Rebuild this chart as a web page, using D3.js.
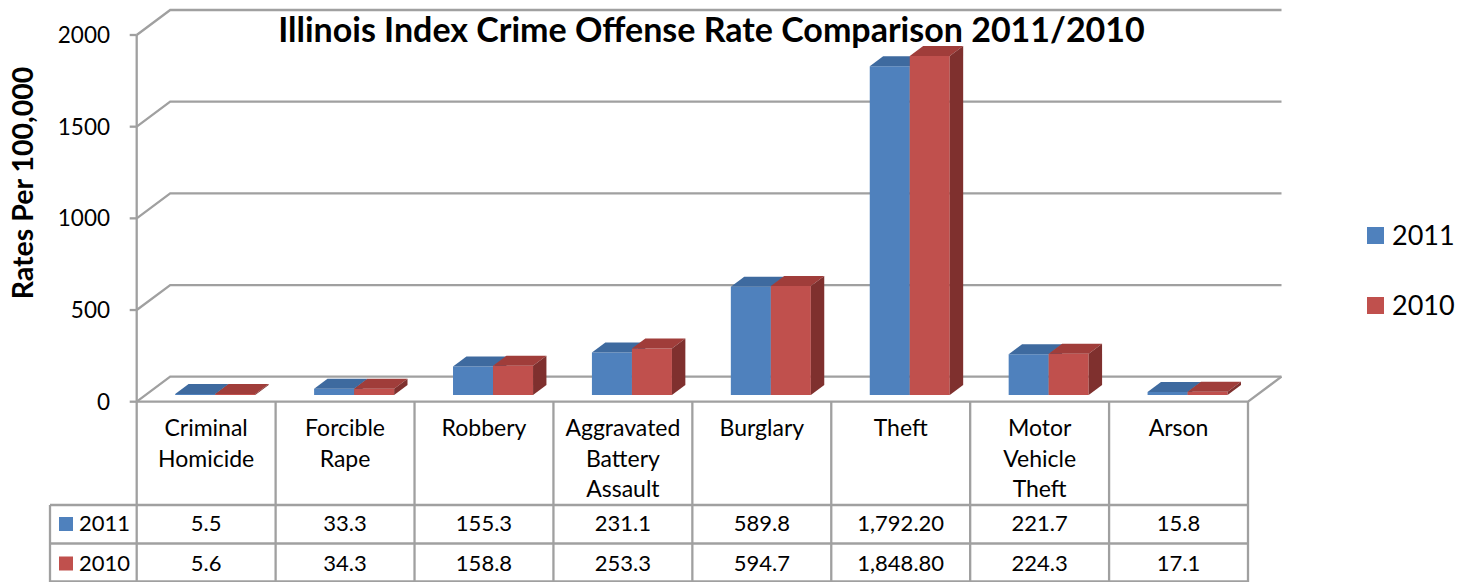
<!DOCTYPE html>
<html>
<head>
<meta charset="utf-8">
<script src="https://cdn.jsdelivr.net/npm/d3@7"></script>
<style>
  html, body { margin: 0; padding: 0; background: #fff; }
  svg { display: block; font-family: Lato, "Open Sans", sans-serif; }
</style>
</head>
<body>
<svg id="chart" width="1471" height="582"></svg>
<script>
// Index crime offense rates per 100,000 population
const categories = ["Criminal Homicide", "Forcible Rape", "Robbery", "Aggravated Battery Assault",
                    "Burglary", "Theft", "Motor Vehicle Theft", "Arson"];
const categoryLines = [["Criminal", "Homicide"], ["Forcible", "Rape"], ["Robbery"],
                       ["Aggravated", "Battery", "Assault"], ["Burglary"], ["Theft"],
                       ["Motor", "Vehicle", "Theft"], ["Arson"]];
const seriesNames = ["2011", "2010"];
const values2011 = [5.5, 33.3, 155.3, 231.1, 589.8, 1792.2, 221.7, 15.8];
const values2010 = [5.6, 34.3, 158.8, 253.3, 594.7, 1848.8, 224.3, 17.1];
const yTicks = [0, 500, 1000, 1500, 2000];

const seriesValues = { "2011": values2011, "2010": values2010 };
const seriesColors = {
  "2011": { front: "#4f81bd", top: "#3e6a9f", side: "#35597f" },
  "2010": { front: "#c0504d", top: "#a03d3a", side: "#7f302e" }
};

const svg = d3.select("#chart");

// Front plane of the 3D plot and the depth offset of the back wall
const left = 136.7, right = 1248, floorY = 401.7, topY = 35;
const DX = 33.5, DY = 25;
const barF1 = 0.27, barF2 = 0.67;   // depth span of the columns (0 = front, 1 = back)
const gridColor = "#a0a0a0";

const x = d3.scaleBand().domain(categories).range([left, right]);
const xs = d3.scaleBand().domain(seriesNames).range([0, x.bandwidth()]).paddingOuter(0.736);
const y = d3.scaleLinear().domain([0, 2000]).range([floorY, topY]);

const proj = (px, v, f) => [px + f * DX, y(v) - f * DY];

// Back wall gridlines with their diagonal side-wall segments
const grid = svg.append("g").attr("fill", "none").attr("stroke", gridColor).attr("stroke-width", 2.3);
yTicks.forEach(t => {
  const pts = [[left, y(t)], proj(left, t, 1), proj(right, t, 1)];
  grid.append("path").attr("d", d3.line()(pts));
  grid.append("line").attr("x1", left - 7).attr("x2", left).attr("y1", y(t)).attr("y2", y(t));
});
// Floor front and right edges, front value axis
grid.append("path").attr("d", d3.line()([[left, floorY], [right, floorY], proj(right, 0, 1)]));
grid.append("line").attr("x1", left).attr("x2", left).attr("y1", topY).attr("y2", floorY);

// Value axis labels
svg.append("g").selectAll("text").data(yTicks).join("text")
  .attr("x", 110).attr("y", d => y(d) + 8)
  .attr("text-anchor", "end").attr("font-size", 22.5).attr("fill", "#000")
  .text(d => d);

// Columns: front, top and side faces
const bars = svg.append("g");
categories.forEach((c, i) => {
  seriesNames.forEach(s => {
    const v = seriesValues[s][i];
    const xa = x(c) + xs(s), xb = xa + xs.bandwidth();
    const col = seriesColors[s];
    const g = bars.append("g");
    g.append("path").attr("fill", col.front)
      .attr("d", d3.line()([proj(xa, 0, barF1), proj(xb, 0, barF1), proj(xb, v, barF1), proj(xa, v, barF1)]) + "Z");
    g.append("path").attr("fill", col.top)
      .attr("d", d3.line()([proj(xa, v, barF1), proj(xb, v, barF1), proj(xb, v, barF2), proj(xa, v, barF2)]) + "Z");
    g.append("path").attr("fill", col.side)
      .attr("d", d3.line()([proj(xb, 0, barF1), proj(xb, 0, barF2), proj(xb, v, barF2), proj(xb, v, barF1)]) + "Z");
  });
});

// Title
svg.append("text").attr("x", 711.5).attr("y", 42)
  .attr("text-anchor", "middle").attr("font-size", 34).attr("font-weight", "bold").attr("fill", "#000")
  .text("Illinois Index Crime Offense Rate Comparison 2011/2010");

// Value axis title
svg.append("text").attr("transform", "translate(33,183) rotate(-90)")
  .attr("text-anchor", "middle").attr("font-size", 28.5).attr("font-weight", "bold").attr("fill", "#000")
  .text("Rates Per 100,000");

// Data table below the floor
const table = svg.append("g");
const rowTop = 505, rowMid = 543.5, rowBottom = 581.5, tableLeft = 50;
const tl = table.append("g").attr("stroke", gridColor).attr("stroke-width", 2.3);
d3.range(categories.length + 1).forEach(i => {
  const px = left + i * x.step();
  tl.append("line").attr("x1", px).attr("x2", px).attr("y1", floorY).attr("y2", 582);
});
[rowTop, rowMid, rowBottom].forEach(ry => {
  tl.append("line").attr("x1", tableLeft).attr("x2", right).attr("y1", ry).attr("y2", ry);
});
tl.append("line").attr("x1", tableLeft).attr("x2", tableLeft).attr("y1", rowTop).attr("y2", 582);

categories.forEach((c, i) => {
  const cx = x(c) + x.bandwidth() / 2;
  categoryLines[i].forEach((ln, k) => {
    table.append("text").attr("x", cx).attr("y", 436 + k * 30.5)
      .attr("text-anchor", "middle").attr("font-size", 23).attr("fill", "#000").text(ln);
  });
});

const fmt = v => v >= 1000 ? d3.format(",.2f")(v) : d3.format(".1f")(v);
const rowBase = { "2011": 531, "2010": 570.5 };
seriesNames.forEach(s => {
  const by = rowBase[s];
  table.append("rect").attr("x", 59).attr("y", by - 14).attr("width", 14).attr("height", 14)
    .attr("fill", seriesColors[s].front);
  table.append("text").attr("x", 79).attr("y", by).attr("font-size", 22).attr("fill", "#000").text(s);
  categories.forEach((c, i) => {
    table.append("text").attr("x", x(c) + x.bandwidth() / 2).attr("y", by)
      .attr("text-anchor", "middle").attr("font-size", 22).attr("fill", "#000")
      .text(fmt(seriesValues[s][i]));
  });
});

// Legend
const legend = svg.append("g");
const legendBase = { "2011": 245, "2010": 315 };
seriesNames.forEach(s => {
  const by = legendBase[s];
  legend.append("rect").attr("x", 1367).attr("y", by - 18).attr("width", 17).attr("height", 17)
    .attr("fill", seriesColors[s].front);
  legend.append("text").attr("x", 1392).attr("y", by).attr("font-size", 27).attr("fill", "#000").text(s);
});
</script>
</body>
</html>
